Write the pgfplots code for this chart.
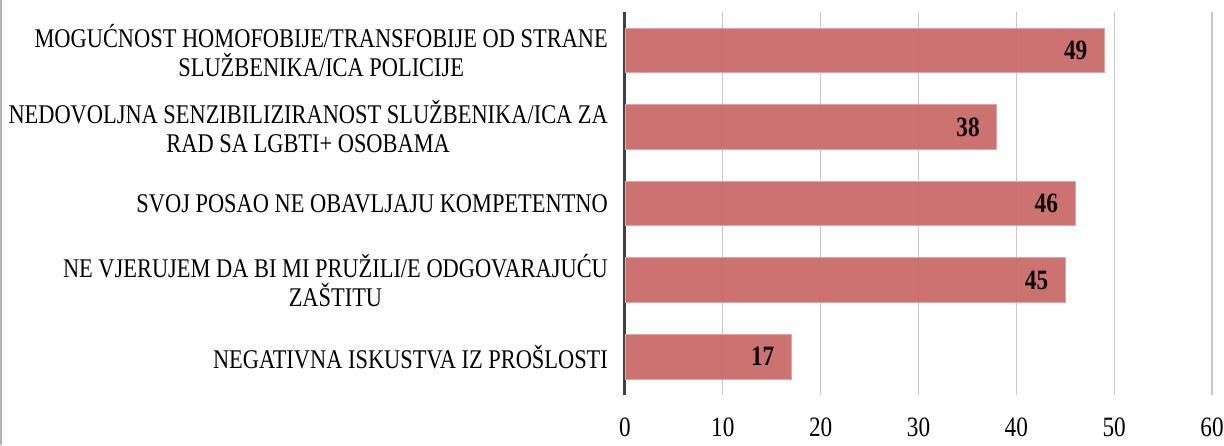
\documentclass[border=0pt]{standalone}
\usepackage{pgfplots}
\pgfplotsset{compat=1.18}
\usepackage{fontspec}
\setmainfont{Liberation Serif}[FakeStretch=0.83]
\definecolor{barred}{HTML}{C96A68}
\definecolor{gridgray}{HTML}{C8C8C8}
\definecolor{axdark}{HTML}{404040}
\begin{document}
\begin{tikzpicture}
\begin{axis}[
  name=ax,
  scale only axis,
  width=293.5pt, height=191.5pt,
  xbar, bar width=0.58,
  xmin=0, xmax=60, xtick={0,10,...,60},
  ymin=-0.5, ymax=4.5, y dir=reverse,
  ytick={0,1,2,3,4},
  yticklabels={
    {MOGUĆNOST HOMOFOBIJE/TRANSFOBIJE OD STRANE\\SLUŽBENIKA/ICA POLICIJE},
    {NEDOVOLJNA SENZIBILIZIRANOST SLUŽBENIKA/ICA ZA\\RAD SA LGBTI+ OSOBAMA},
    {SVOJ POSAO NE OBAVLJAJU KOMPETENTNO},
    {NE VJERUJEM DA BI MI PRUŽILI/E ODGOVARAJUĆU\\ZAŠTITU},
    {NEGATIVNA ISKUSTVA IZ PROŠLOSTI}},
  yticklabel style={align=center, font=\fontsize{13.5}{14.5}\selectfont, xshift=-5pt},
  xticklabel style={font=\fontsize{14}{15}\selectfont, yshift=-8pt},
  /pgf/number format/assume math mode=true,
  major tick length=0pt,
  axis lines*=left,
  x axis line style={draw=none},
  y axis line style={draw=axdark, line width=1.5pt},
  xmajorgrids, grid style={gridgray, line width=0.6pt},
  nodes near coords,
  nodes near coords style={anchor=east, xshift=-5pt, font=\fontsize{14}{15}\selectfont\bfseries},
]
\addplot[fill=barred, draw=barred!60, fill opacity=0.95] coordinates {
  (49,0) (38,1) (46,2) (45,3) (17,4)
};
\end{axis}
\pgfresetboundingbox
\path[use as bounding box] ([xshift=-312.5pt,yshift=-25pt]ax.south west) rectangle ([xshift=6pt,yshift=6pt]ax.north east);
\draw[gray!60, line width=0.8pt] ([xshift=-312pt,yshift=-25pt]ax.south west) -- ([xshift=-312pt,yshift=6pt]ax.north west);
\end{tikzpicture}
\end{document}
